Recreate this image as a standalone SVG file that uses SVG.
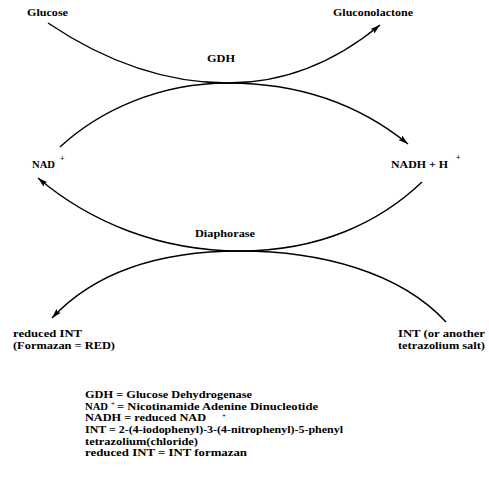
<svg xmlns="http://www.w3.org/2000/svg" width="489" height="477" viewBox="0 0 489 477">
<defs>
<marker id="arr" markerUnits="userSpaceOnUse" markerWidth="10" markerHeight="6" refX="10" refY="3" orient="auto">
<path d="M0,0 L10,3 L0,6 L2,3 z" fill="#000"/>
</marker>
<style>
text{font-family:"Liberation Serif","Times New Roman",serif;font-weight:bold;font-size:11px;fill:#000}
.lg{font-size:10.5px}
.sup{font-size:8px}
.ls{font-size:7px}
.c{fill:none;stroke:#000;stroke-width:1.4}
</style>
</defs>
<rect width="489" height="477" fill="#fff"/>
<g id="connectors">
<path class="c" d="M48,23 C100,58 160,83 228,83 C290,83 340,58 380,25" marker-end="url(#arr)"/>
<path class="c" d="M60,147 C100,110 160,83 228,83 C300,83 360,105 408,144" marker-end="url(#arr)"/>
<path class="c" d="M422,182 C380,222 320,251 240,251 C160,251 90,222 38,178" marker-end="url(#arr)"/>
<path class="c" d="M446,322 C400,272 320,251 240,251 C160,251 95,272 52,318" marker-end="url(#arr)"/>
</g>
<g id="glucose"><text x="27" y="16" textLength="41" lengthAdjust="spacingAndGlyphs">Glucose</text></g>
<g id="gluconolactone"><text x="333" y="16" textLength="80" lengthAdjust="spacingAndGlyphs">Gluconolactone</text></g>
<g id="gdh"><text x="207" y="62" textLength="28" lengthAdjust="spacingAndGlyphs">GDH</text></g>
<g id="nad"><text x="32" y="168" textLength="23" lengthAdjust="spacingAndGlyphs">NAD</text><text class="sup" x="60" y="161">+</text></g>
<g id="nadh"><text x="391" y="168" textLength="57" lengthAdjust="spacingAndGlyphs">NADH + H</text><text class="sup" x="456" y="160">+</text></g>
<g id="diaphorase"><text x="195" y="237" textLength="60" lengthAdjust="spacingAndGlyphs">Diaphorase</text></g>
<g id="reduced-int"><text x="13" y="337" textLength="69" lengthAdjust="spacingAndGlyphs">reduced INT</text><text x="13" y="349" textLength="102" lengthAdjust="spacingAndGlyphs">(Formazan = RED)</text></g>
<g id="int"><text x="398" y="337" textLength="87" lengthAdjust="spacingAndGlyphs">INT (or another</text><text x="398" y="349" textLength="87" lengthAdjust="spacingAndGlyphs">tetrazolium salt)</text></g>
<g id="legend">
<text class="lg" x="85" y="398" textLength="167" lengthAdjust="spacingAndGlyphs">GDH = Glucose Dehydrogenase</text>
<text class="lg" x="85" y="410" textLength="23" lengthAdjust="spacingAndGlyphs">NAD</text><text class="ls" x="111" y="406">+</text><text class="lg" x="117" y="410" textLength="201" lengthAdjust="spacingAndGlyphs">= Nicotinamide Adenine Dinucleotide</text>
<text class="lg" x="85" y="421" textLength="121" lengthAdjust="spacingAndGlyphs">NADH = reduced NAD</text><text class="ls" x="222" y="418">+</text>
<text class="lg" x="85" y="433" textLength="258" lengthAdjust="spacingAndGlyphs">INT = 2-(4-iodophenyl)-3-(4-nitrophenyl)-5-phenyl</text>
<text class="lg" x="85" y="445" textLength="113" lengthAdjust="spacingAndGlyphs">tetrazolium(chloride)</text>
<text class="lg" x="85" y="456" textLength="162" lengthAdjust="spacingAndGlyphs">reduced INT = INT formazan</text>
</g>
</svg>
